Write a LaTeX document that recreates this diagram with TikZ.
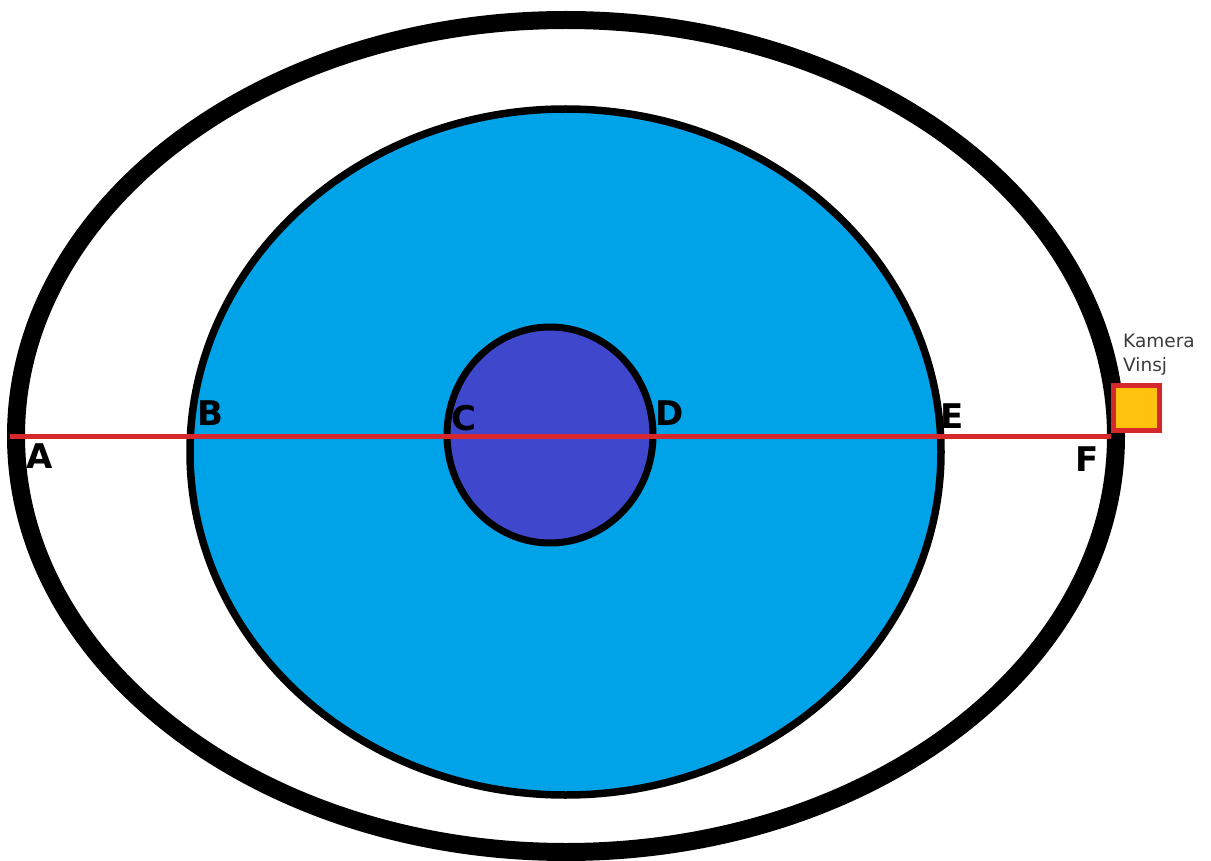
\documentclass[tikz,border=0pt]{standalone}
\usepackage{fontspec}
\setmainfont{DejaVu Sans}
\definecolor{lake}{RGB}{0,162,232}
\definecolor{core}{RGB}{63,72,204}
\definecolor{redline}{RGB}{214,40,44}
\definecolor{gold}{RGB}{255,194,14}
\definecolor{labelgray}{RGB}{60,60,60}
\begin{document}
\begin{tikzpicture}[x=1pt,y=-1pt,
  pt/.style={font=\fontsize{34}{34}\selectfont\bfseries, text=black, inner sep=0pt, anchor=base west},
  cambox/.style={draw=redline, fill=gold, line width=5pt, minimum width=46pt, minimum height=45pt, inner sep=0pt, anchor=south west},
  camtext/.style={font=\fontsize{18.5}{24}\selectfont, text=labelgray, align=left, inner sep=0pt, anchor=south west}]
\useasboundingbox (0,0) rectangle (1211,861);
\fill[white] (0,0) rectangle (1211,861);
% outer ring
\draw[line width=18pt, black] (566,436) ellipse [x radius=550pt, y radius=416pt];
% lake
\draw[line width=7.5pt, black, fill=lake] (565.5,452) ellipse [x radius=375.5pt, y radius=343pt];
% core
\draw[line width=7pt, black, fill=core] (550,435) ellipse [x radius=103pt, y radius=108pt];
% camera box
\node[cambox] (cam) at (1110.5,433) {};
\coordinate (start) at (10,436);
\draw[redline, line width=5pt] (start) -- (cam.south west |- start);
% labels
\node[pt] (A) at (26,468) {A};
\node[pt] (B) at (197,425) {B};
\node[pt] (C) at (451,430) {C};
\node[pt] (D) at (655,425) {D};
\node[pt] (E) at (940,428) {E};
\node[pt] (F) at (1075,471) {F};
\node[camtext] (lbl) at (1123,376) {Kamera\\Vinsj};
\end{tikzpicture}
\end{document}
